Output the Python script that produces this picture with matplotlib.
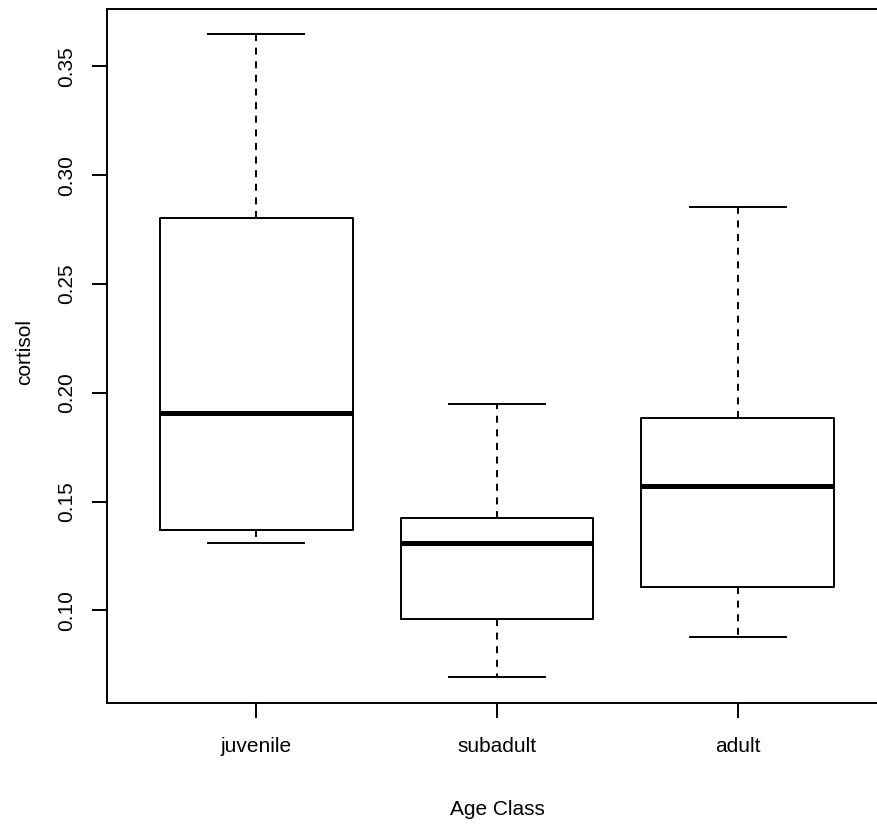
import matplotlib
matplotlib.use('Agg')
import matplotlib.pyplot as plt

# Age classes and the five-number summaries
classes = ['juvenile', 'subadult', 'adult']
whisker_low = [0.1312, 0.0693, 0.0876]
q1 = [0.1372, 0.0963, 0.1106]
median = [0.1908, 0.1312, 0.1573]
q3 = [0.2803, 0.1427, 0.1885]
whisker_high = [0.3647, 0.1950, 0.2853]
yticks = [0.10, 0.15, 0.20, 0.25, 0.30, 0.35]

plt.rcParams['font.family'] = ['Liberation Sans', 'DejaVu Sans']

stats = []
for i in range(len(classes)):
    stats.append({'label': classes[i], 'whislo': whisker_low[i], 'q1': q1[i],
                  'med': median[i], 'q3': q3[i], 'whishi': whisker_high[i],
                  'fliers': []})

W, H = 877, 825
fig = plt.figure(figsize=(W / 100, H / 100), dpi=100)
# axes runs a bit past the right edge, like the cropped original
ax = fig.add_axes([107 / W, 1 - 703 / H, (887 - 107) / W, (703 - 8.7) / H])

lw = 1.4
ax.bxp(stats, positions=[1, 2, 3], widths=0.8, showfliers=False,
       boxprops=dict(color='black', linewidth=lw),
       whiskerprops=dict(color='black', linewidth=lw, linestyle=(0, (3.6, 3.4))),
       capprops=dict(color='black', linewidth=lw),
       medianprops=dict(color='black', linewidth=3.6, solid_capstyle='butt'),
       capwidths=0.4)

# R style axis extension of 4%
lo = min(whisker_low)
hi = max(whisker_high)
pad = (hi - lo) * 0.04
ax.set_ylim(lo - pad, hi + pad)
ax.set_xlim(0.38, 3.62)

ax.set_yticks(yticks)
ax.set_yticklabels(['%.2f' % v for v in yticks])
ax.set_xticks([1, 2, 3])
ax.set_xticklabels(classes)
ax.tick_params(axis='both', length=10.8, width=lw, labelsize=15, colors='black')
ax.tick_params(axis='y', pad=11.5)
ax.tick_params(axis='x', pad=14)
for lab in ax.get_yticklabels():
    lab.set_rotation(90)
    lab.set_va('center')
for s in ax.spines.values():
    s.set_linewidth(lw)

fig.text(497 / W, 1 - 815 / H, 'Age Class', ha='center', va='baseline', fontsize=15)
fig.text(25 / W, 1 - 352 / H, 'cortisol', ha='center', va='center', rotation=90, fontsize=15)

plt.savefig('out.png', dpi=100)
